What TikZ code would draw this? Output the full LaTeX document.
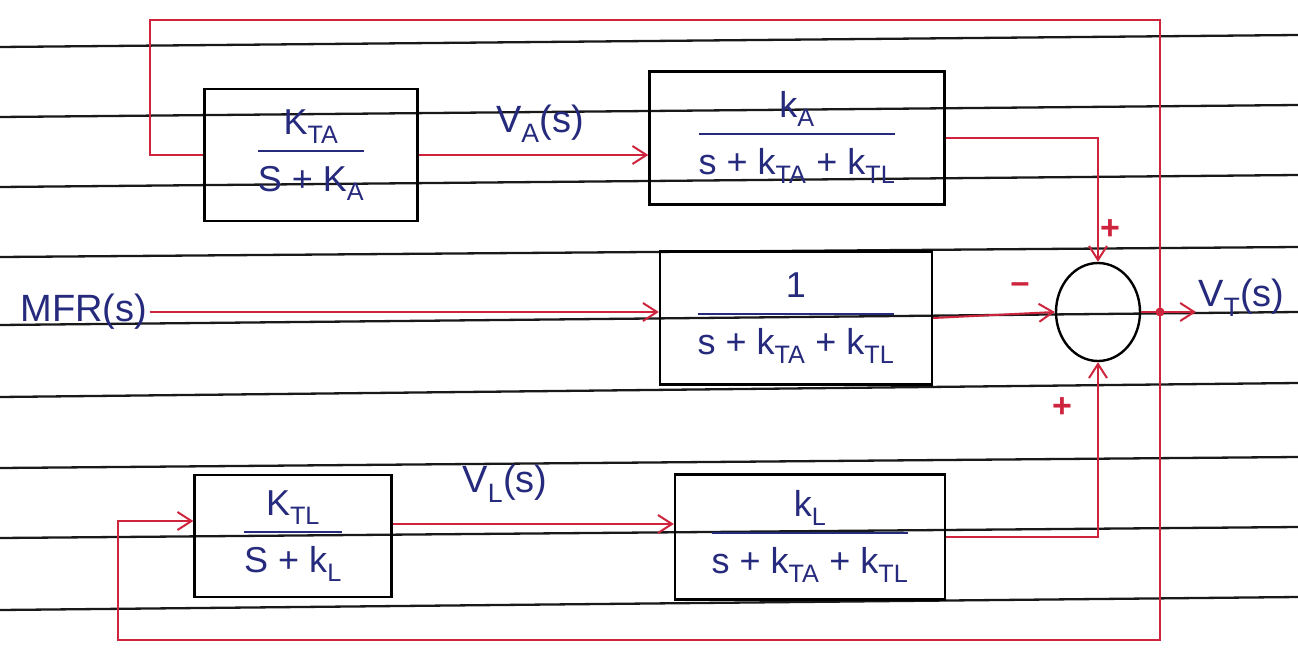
\documentclass[tikz,border=0pt]{standalone}
\usepackage{fontspec}
\setmainfont{Liberation Sans}
\usetikzlibrary{arrows.meta,shapes.geometric}
\definecolor{ink}{RGB}{38,42,125}
\definecolor{pen}{RGB}{206,36,62}
\definecolor{paperline}{RGB}{25,25,25}
% transfer-function block: numerator over a bar over denominator
\newcommand{\blockfrac}[2]{{\setlength{\arrayrulewidth}{2.4pt}%
  \begin{tabular}{@{}c@{}}#1\\[3pt]\hline\rule{0pt}{1.1em}#2\end{tabular}}}
\begin{document}
\begin{tikzpicture}[x=1pt,y=-1pt,
  ruling/.style={draw=paperline,line width=2.3pt},
  blockbox/.style={draw=black,line width=2.4pt,text=ink,inner sep=0pt,
    font=\fontsize{36}{40}\selectfont},
  wire/.style={draw=pen,line width=2pt},
  sig/.style={wire,-{Straight Barb[length=14pt,width=18pt,line width=2pt]}},
  lbl/.style={text=ink,inner sep=2pt,font=\fontsize{38}{42}\selectfont},
  sign/.style={text=pen,font=\fontsize{34}{38}\selectfont\bfseries},
  junction/.style={ellipse,draw=black,line width=2.4pt,minimum width=84pt,minimum height=98pt,inner sep=0pt}]
\useasboundingbox (0,0) rectangle (1298,653);
\fill[white] (0,0) rectangle (1298,653);

% ruled notebook lines
\foreach \yl/\yr in {47/35,117/105,187/175,257/247,325/312,397/383,468/457,538/527,610/597}
  \draw[ruling] (0,\yl) -- (1298,\yr);

% blocks
\node[blockbox,minimum width=213pt,minimum height=132pt] (a1) at (311,155)
  {\blockfrac{K\textsubscript{TA}}{S + K\textsubscript{A}}};
\node[blockbox,minimum width=295pt,minimum height=133pt] (a2) at (797,138)
  {\blockfrac{k\textsubscript{A}}{s + k\textsubscript{TA} + k\textsubscript{TL}}};
\node[blockbox,minimum width=272pt,minimum height=133pt] (m) at (796,318)
  {\blockfrac{1}{s + k\textsubscript{TA} + k\textsubscript{TL}}};
\node[blockbox,minimum width=197pt,minimum height=122pt] (l1) at (293,536)
  {\blockfrac{K\textsubscript{TL}}{S + k\textsubscript{L}}};
\node[blockbox,minimum width=270pt,minimum height=125pt] (l2) at (810,537)
  {\blockfrac{k\textsubscript{L}}{s + k\textsubscript{TA} + k\textsubscript{TL}}};

% summing junction
\node[junction] (sum) at (1098,312) {};

% signal labels
\node[lbl] (mfr) at (84,312) {MFR(s)};
\node[lbl] (va) at (540,124) {V\textsubscript{A}(s)};
\node[lbl] (vl) at (505,484) {V\textsubscript{L}(s)};
\node[lbl,anchor=west] (vt) at (1196,298) {V\textsubscript{T}(s)};

% signs at the junction inputs
\node[sign] (pa) at (1110,230) {+};
\node[sign] (pm) at (1020,288) {--};
\node[sign] (pl) at (1062,408) {+};

% forward paths
\draw[sig] (a1.east) -- (a1.east -| a2.west);
\draw[sig] (mfr.east) -- (mfr.east -| m.west);
\draw[sig] ([yshift=12pt]l1.east) -- ([yshift=12pt]l1.east -| l2.west);
\draw[sig] (a2.east) -| (sum.north);
\draw[sig] (m.east) -- (sum.west);
\draw[sig] (l2.east) -| (sum.south);

% output and feedback take-off
\coordinate (tap) at (1160,312);
\draw[sig] (sum.east) -- (sum.east -| vt.west);
\fill[pen] (tap) circle (4.5pt);
\coordinate (topleft) at (150,20);
\coordinate (botleft) at (118,640);
\draw[wire] (tap) |- (topleft) |- (a1.west);
\draw[sig] (tap) |- (botleft) |- ([yshift=15pt]l1.west);
\end{tikzpicture}
\end{document}
